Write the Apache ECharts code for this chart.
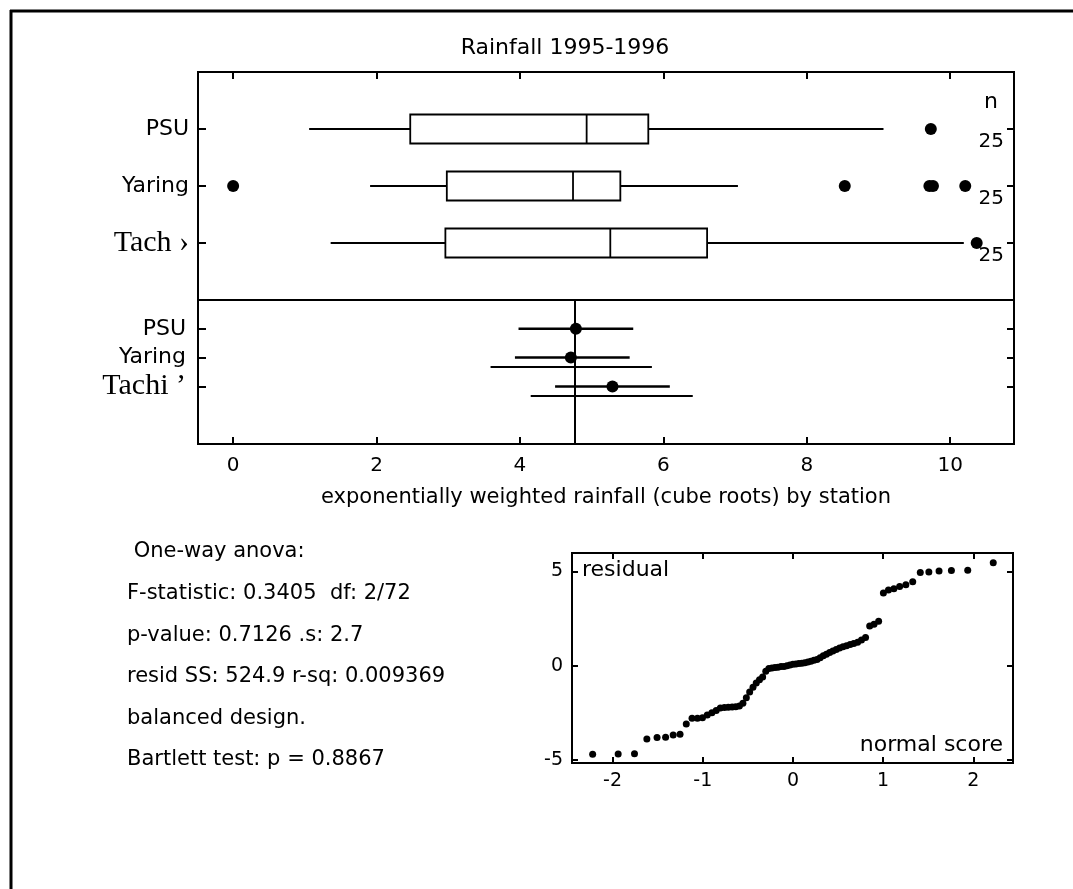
<!DOCTYPE html>
<html><head><meta charset="utf-8">
<script src="https://cdn.jsdelivr.net/npm/echarts@6/dist/echarts.min.js"></script>
<style>html,body{margin:0;padding:0;background:#fff}#c{width:1073px;height:889px}</style>
</head><body><div id="c"></div>
<script>
// ---------- data ----------
const stations = ['PSU', 'Yaring', 'Tachi'];
const topLabels = ['PSU', 'Yaring', 'Tach \u203A'];
const midLabels = ['PSU', 'Yaring', 'Tachi \u2019'];
const boxLow = [1.06, 1.91, 1.36];
const boxQ1 = [2.47, 2.98, 2.96];
const boxMedian = [4.93, 4.74, 5.26];
const boxQ3 = [5.79, 5.40, 6.61];
const boxHigh = [9.07, 7.04, 10.19];
const outliers = [[9.73], [0.0, 8.53, 9.71, 9.76, 10.21], [10.37]];
const counts = [25, 25, 25];
const meanValues = [4.78, 4.71, 5.29];
const ciLow = [3.98, 3.93, 4.49];
const ciHigh = [5.58, 5.53, 6.09];
const altLow = [null, 3.59, 4.15];
const altHigh = [null, 5.84, 6.41];
const grandMean = 4.77;
const xTicks = [0, 2, 4, 6, 8, 10];
const normalScores = [-2.221, -1.938, -1.757, -1.620, -1.507, -1.412, -1.328, -1.252, -1.183, -1.119,
  -1.059, -1.003, -0.950, -0.899, -0.851, -0.805, -0.760, -0.717, -0.674, -0.634,
  -0.594, -0.555, -0.517, -0.480, -0.443, -0.407, -0.371, -0.336, -0.301, -0.267,
  -0.233, -0.199, -0.166, -0.132, -0.099, -0.066, -0.033, 0, 0.033, 0.066,
  0.099, 0.132, 0.166, 0.199, 0.233, 0.267, 0.301, 0.336, 0.371, 0.407,
  0.443, 0.480, 0.517, 0.555, 0.594, 0.634, 0.674, 0.717, 0.760, 0.805,
  0.851, 0.899, 0.950, 1.003, 1.059, 1.119, 1.183, 1.252, 1.328, 1.412,
  1.507, 1.620, 1.757, 1.938, 2.221];
const residuals = [-4.70, -4.69, -4.68, -3.90, -3.82, -3.80, -3.68, -3.64, -3.10, -2.80,
  -2.79, -2.77, -2.62, -2.50, -2.38, -2.25, -2.22, -2.21, -2.20, -2.19,
  -2.15, -2.00, -1.70, -1.40, -1.15, -0.92, -0.75, -0.60, -0.30, -0.15,
  -0.12, -0.10, -0.08, -0.05, -0.04, 0.00, 0.03, 0.07, 0.09, 0.11,
  0.13, 0.15, 0.19, 0.23, 0.28, 0.32, 0.42, 0.52, 0.60, 0.70,
  0.78, 0.86, 0.94, 1.00, 1.06, 1.12, 1.17, 1.24, 1.36, 1.50,
  2.10, 2.20, 2.35, 3.85, 4.02, 4.08, 4.20, 4.30, 4.45, 4.95,
  4.97, 5.03, 5.05, 5.06, 5.46];
const qqXTicks = [-2, -1, 0, 1, 2];
const qqYTicks = [-5, 0, 5];
const statsLines = [' One-way anova:', 'F-statistic: 0.3405  df: 2/72', 'p-value: 0.7126 .s: 2.7',
  'resid SS: 524.9 r-sq: 0.009369', 'balanced design.', 'Bartlett test: p = 0.8867'];
const titleText = 'Rainfall 1995-1996';
const xName = 'exponentially weighted rainfall (cube roots) by station';

// ---------- chart ----------
const F = 'DejaVu Sans';
const BLACK = '#000';
const topCats = [''].concat(topLabels, [' ']);
const midCats = [''].concat(midLabels, [' ', '  ']);
const realCat = (i, v) => String(v).trim() !== '';
const tickStyle = {color: BLACK, width: 2};
const noLine = {show: false, onZero: false};
const serifRich = {s: {fontFamily: 'Liberation Serif', fontSize: 30, color: BLACK}};
const catFmt = v => (String(v).indexOf('Tach') === 0 ? '{s|' + v + '}' : v);
const dot = {color: BLACK, opacity: 1};

const chart = echarts.init(document.getElementById('c'), null, {renderer: 'canvas'});

const outlierData = [];
outliers.forEach((arr, i) => arr.forEach(v => outlierData.push([v, i + 1])));

const gridBase = {show: true, borderColor: BLACK, borderWidth: 2, backgroundColor: 'transparent', outerBoundsMode: 'none'};

const option = {
  animation: false,
  backgroundColor: '#fff',
  textStyle: {fontFamily: F, color: BLACK},
  grid: [
    Object.assign({left: 198, top: 72, width: 816, height: 228}, gridBase),
    Object.assign({left: 198, top: 300, width: 816, height: 144}, gridBase),
    Object.assign({left: 572, top: 553, width: 441, height: 210}, gridBase)
  ],
  xAxis: [
    {gridIndex: 0, type: 'value', position: 'top', min: -0.49, max: 10.89,
      axisLine: noLine, splitLine: {show: false},
      axisTick: {show: true, inside: true, length: 7, lineStyle: tickStyle, customValues: xTicks},
      axisLabel: {show: false, customValues: xTicks}},
    {gridIndex: 1, type: 'value', position: 'bottom', min: -0.49, max: 10.89,
      axisLine: noLine, splitLine: {show: false},
      axisTick: {show: true, inside: true, length: 7, lineStyle: tickStyle, customValues: xTicks},
      axisLabel: {show: true, customValues: xTicks, fontFamily: F, fontSize: 20, color: BLACK, margin: 12},
      name: xName, nameLocation: 'middle', nameGap: 43,
      nameTextStyle: {fontFamily: F, fontSize: 21, color: BLACK}},
    {gridIndex: 2, type: 'value', position: 'bottom', min: -2.45, max: 2.44,
      axisLine: noLine, splitLine: {show: false},
      axisTick: {show: true, inside: true, length: 6, lineStyle: tickStyle, customValues: qqXTicks},
      axisLabel: {show: true, customValues: qqXTicks, fontFamily: F, fontSize: 19, color: BLACK, margin: 9}},
    {gridIndex: 2, type: 'value', position: 'top', min: -2.45, max: 2.44,
      axisLine: noLine, splitLine: {show: false},
      axisTick: {show: true, inside: true, length: 6, lineStyle: tickStyle, customValues: qqXTicks},
      axisLabel: {show: false, customValues: qqXTicks}}
  ],
  yAxis: [
    {gridIndex: 0, type: 'category', data: topCats, inverse: true, boundaryGap: false, position: 'left',
      axisLine: noLine, splitLine: {show: false},
      axisTick: {show: true, inside: true, length: 8, lineStyle: tickStyle, interval: realCat},
      axisLabel: {interval: 0, formatter: catFmt, rich: serifRich, fontFamily: F, fontSize: 22, color: BLACK, margin: 9}},
    {gridIndex: 0, type: 'category', data: topCats, inverse: true, boundaryGap: false, position: 'right',
      axisLine: noLine, splitLine: {show: false},
      axisTick: {show: true, inside: true, length: 7, lineStyle: tickStyle, interval: realCat},
      axisLabel: {interval: 0, inside: true, margin: 10, verticalAlign: 'top', lineHeight: 26,
        fontFamily: F, fontSize: 20, color: BLACK,
        formatter: (v, i) => (i >= 1 && i <= counts.length ? String(counts[i - 1]) : '')}},
    {gridIndex: 1, type: 'category', data: midCats, inverse: true, boundaryGap: false, position: 'left',
      axisLine: noLine, splitLine: {show: false},
      axisTick: {show: true, inside: true, length: 8, lineStyle: tickStyle, interval: realCat},
      axisLabel: {interval: 0, formatter: catFmt, rich: serifRich, fontFamily: F, fontSize: 22, color: BLACK, margin: 12}},
    {gridIndex: 1, type: 'category', data: midCats, inverse: true, boundaryGap: false, position: 'right',
      axisLine: noLine, splitLine: {show: false},
      axisTick: {show: true, inside: true, length: 7, lineStyle: tickStyle, interval: realCat},
      axisLabel: {show: false}},
    {gridIndex: 2, type: 'value', min: -5.17, max: 5.98, position: 'left',
      axisLine: noLine, splitLine: {show: false},
      axisTick: {show: true, inside: true, length: 6, lineStyle: tickStyle, customValues: qqYTicks},
      axisLabel: {show: true, customValues: qqYTicks, fontFamily: F, fontSize: 19, color: BLACK, margin: 9}},
    {gridIndex: 2, type: 'value', min: -5.17, max: 5.98, position: 'right',
      axisLine: noLine, splitLine: {show: false},
      axisTick: {show: true, inside: true, length: 6, lineStyle: tickStyle, customValues: qqYTicks},
      axisLabel: {show: false, customValues: qqYTicks}}
  ],
  series: [
    {
      type: 'custom', xAxisIndex: 0, yAxisIndex: 0, silent: true,
      data: stations.map((s, i) => [i + 1, boxLow[i], boxQ1[i], boxMedian[i], boxQ3[i], boxHigh[i]]),
      encode: {y: 0, x: [1, 2, 3, 4, 5]},
      renderItem: function (params, api) {
        const c = api.value(0);
        const p = [1, 2, 3, 4, 5].map(d => api.coord([api.value(d), c]));
        const y = p[0][1], h = 14.5;
        const ls = {stroke: BLACK, lineWidth: 2, fill: null};
        return {type: 'group', children: [
          {type: 'line', shape: {x1: p[0][0], y1: y, x2: p[1][0], y2: y}, style: ls},
          {type: 'line', shape: {x1: p[3][0], y1: y, x2: p[4][0], y2: y}, style: ls},
          {type: 'rect', shape: {x: p[1][0], y: y - h, width: p[3][0] - p[1][0], height: 2 * h},
            style: {stroke: BLACK, lineWidth: 1.8, fill: 'rgba(0,0,0,0)'}},
          {type: 'line', shape: {x1: p[2][0], y1: y - h, x2: p[2][0], y2: y + h}, style: {stroke: BLACK, lineWidth: 1.8}}
        ]};
      }
    },
    {
      type: 'scatter', xAxisIndex: 0, yAxisIndex: 0, silent: true,
      data: outlierData, symbol: 'circle', symbolSize: 12, itemStyle: dot
    },
    {
      type: 'custom', xAxisIndex: 1, yAxisIndex: 2, silent: true,
      data: stations.map((s, i) => [i + 1, ciLow[i], ciHigh[i]]),
      encode: {y: 0, x: [1, 2]},
      renderItem: function (params, api) {
        const i = params.dataIndex;
        const c = api.value(0);
        const a = api.coord([api.value(1), c]), b = api.coord([api.value(2), c]);
        const children = [{type: 'line', shape: {x1: a[0], y1: a[1], x2: b[0], y2: b[1]},
          style: {stroke: BLACK, lineWidth: 2.5}}];
        if (altLow[i] != null && altHigh[i] != null) {
          const a2 = api.coord([altLow[i], c]), b2 = api.coord([altHigh[i], c]);
          children.push({type: 'line', shape: {x1: a2[0], y1: a2[1] + 9.5, x2: b2[0], y2: b2[1] + 9.5},
            style: {stroke: BLACK, lineWidth: 2}});
        }
        return {type: 'group', children: children};
      }
    },
    {
      type: 'scatter', xAxisIndex: 1, yAxisIndex: 2, silent: true,
      data: meanValues.map((v, i) => [v, i + 1]), symbol: 'circle', symbolSize: 12, itemStyle: dot,
      markLine: {silent: true, symbol: 'none', animation: false, label: {show: false},
        lineStyle: {color: BLACK, width: 2, type: 'solid', opacity: 1},
        data: [{xAxis: grandMean}]}
    },
    {
      type: 'scatter', xAxisIndex: 2, yAxisIndex: 4, silent: true,
      data: normalScores.map((x, i) => [x, residuals[i]]), symbol: 'circle', symbolSize: 7, itemStyle: dot
    }
  ],
  graphic: [
    {type: 'line', shape: {x1: 10, y1: 11, x2: 1073, y2: 11}, style: {stroke: BLACK, lineWidth: 3}, silent: true},
    {type: 'line', shape: {x1: 11, y1: 10, x2: 11, y2: 889}, style: {stroke: BLACK, lineWidth: 3}, silent: true},
    {type: 'text', x: 565, y: 48, style: {text: titleText, fontFamily: F, fontSize: 22, fill: BLACK,
      textAlign: 'center', textVerticalAlign: 'middle'}, silent: true},
    {type: 'text', x: 991, y: 102, style: {text: 'n', fontFamily: F, fontSize: 22, fill: BLACK,
      textAlign: 'center', textVerticalAlign: 'middle'}, silent: true},
    {type: 'text', x: 582, y: 570, style: {text: 'residual', fontFamily: F, fontSize: 22, fill: BLACK,
      textAlign: 'left', textVerticalAlign: 'middle'}, silent: true},
    {type: 'text', x: 1003, y: 745, style: {text: 'normal score', fontFamily: F, fontSize: 22, fill: BLACK,
      textAlign: 'right', textVerticalAlign: 'middle'}, silent: true}
  ].concat(statsLines.map((t, k) => ({
    type: 'text', x: 127, y: 552 + k * 41.6, silent: true,
    style: {text: t, fontFamily: F, fontSize: 21, fill: BLACK, textAlign: 'left', textVerticalAlign: 'middle'}
  })))
};
chart.setOption(option);
</script></body></html>
